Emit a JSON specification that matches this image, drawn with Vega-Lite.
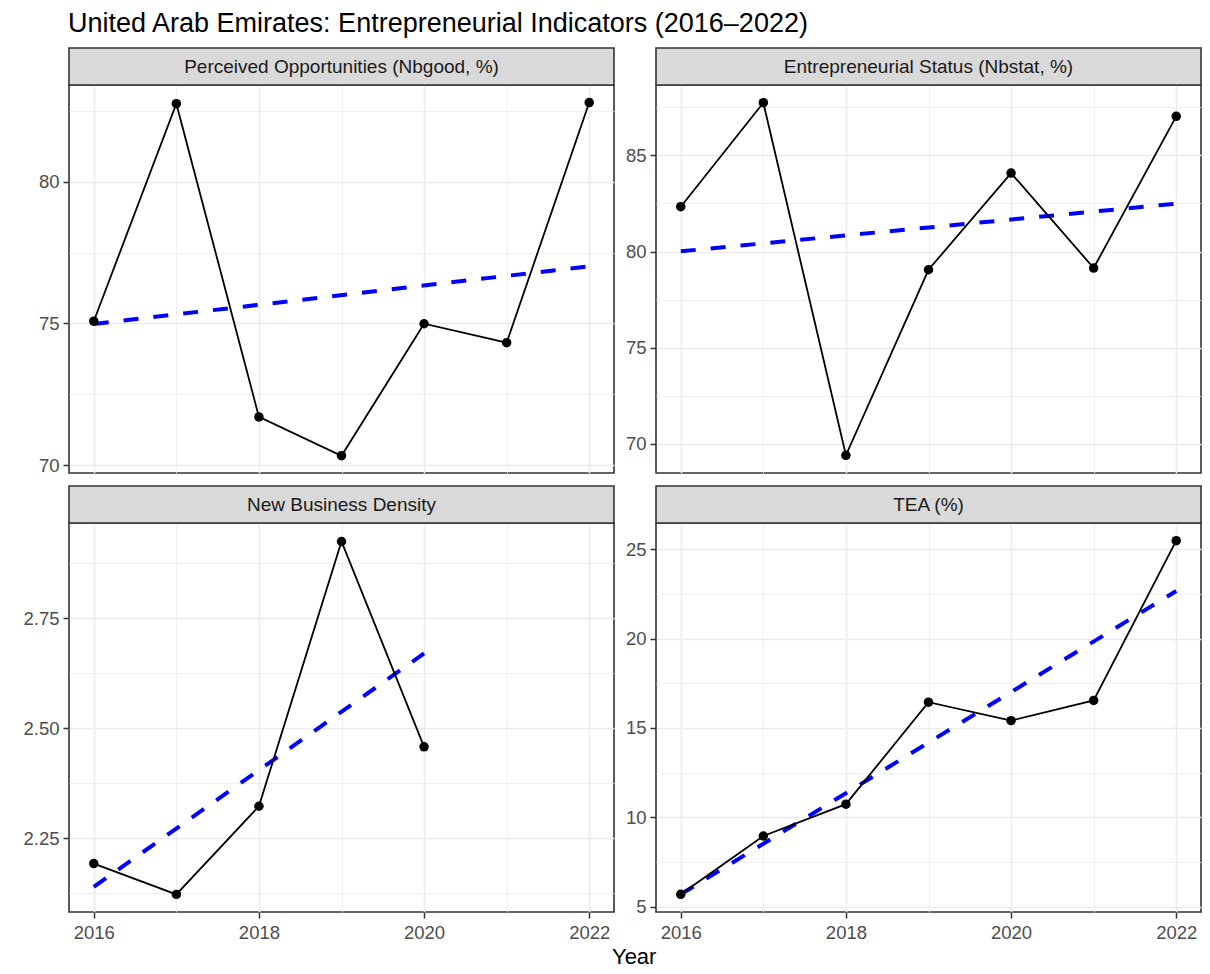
{
  "$schema": "https://vega.github.io/schema/vega-lite/v6.json",
  "background": "white",
  "padding": {"left": 18, "top": 10, "right": 5, "bottom": 5},
  "title": {"text": "United Arab Emirates: Entrepreneurial Indicators (2016–2022)", "anchor": "start", "frame": "group", "dx": -1, "fontSize": 27, "fontWeight": "normal", "color": "#000000", "font": "Liberation Sans", "offset": 8},
  "config": {
    "font": "Liberation Sans",
    "view": {"stroke": "#333333", "strokeWidth": 1.6},
    "axis": {"domain": false, "grid": true, "gridColor": "#ebebeb", "labelColor": "#4d4d4d", "labelFontSize": 18.5, "labelFont": "Liberation Sans", "tickColor": "#333333", "tickWidth": 1.5, "tickSize": 6, "labelFlush": false, "labelOverlap": false, "titleFont": "Liberation Sans", "titleFontWeight": "normal", "titleFontSize": 22, "titleColor": "#000000"}
  },
  "datasets": {
    "pts": [
      {"ind": "P1", "year": 2016, "value": 75.08}, {"ind": "P1", "year": 2017, "value": 82.76}, {"ind": "P1", "year": 2018, "value": 71.70}, {"ind": "P1", "year": 2019, "value": 70.33}, {"ind": "P1", "year": 2020, "value": 74.99}, {"ind": "P1", "year": 2021, "value": 74.32}, {"ind": "P1", "year": 2022, "value": 82.80},
      {"ind": "P2", "year": 2016, "value": 82.33}, {"ind": "P2", "year": 2017, "value": 87.74}, {"ind": "P2", "year": 2018, "value": 69.40}, {"ind": "P2", "year": 2019, "value": 79.05}, {"ind": "P2", "year": 2020, "value": 84.08}, {"ind": "P2", "year": 2021, "value": 79.14}, {"ind": "P2", "year": 2022, "value": 87.03},
      {"ind": "P3", "year": 2016, "value": 2.193}, {"ind": "P3", "year": 2017, "value": 2.123}, {"ind": "P3", "year": 2018, "value": 2.323}, {"ind": "P3", "year": 2019, "value": 2.924}, {"ind": "P3", "year": 2020, "value": 2.458},
      {"ind": "P4", "year": 2016, "value": 5.70}, {"ind": "P4", "year": 2017, "value": 8.96}, {"ind": "P4", "year": 2018, "value": 10.74}, {"ind": "P4", "year": 2019, "value": 16.44}, {"ind": "P4", "year": 2020, "value": 15.41}, {"ind": "P4", "year": 2021, "value": 16.54}, {"ind": "P4", "year": 2022, "value": 25.47}
    ],
    "trend": [
      {"ind": "P1", "year": 2016, "value": 74.98}, {"ind": "P1", "year": 2022, "value": 77.02},
      {"ind": "P2", "year": 2016, "value": 80.01}, {"ind": "P2", "year": 2022, "value": 82.49},
      {"ind": "P3", "year": 2016, "value": 2.14}, {"ind": "P3", "year": 2020, "value": 2.67},
      {"ind": "P4", "year": 2016, "value": 5.70}, {"ind": "P4", "year": 2022, "value": 22.66}
    ]
  },
  "columns": 2,
  "spacing": {"row": 8, "column": -7},
  "concat": [
    {
      "width": 545, "height": 388,
      "resolve": {"scale": {"y": "independent"}},
      "layer": [
        {
          "data": {"values": [{"label": "Perceived Opportunities (Nbgood, %)"}]},
          "encoding": {"y": {"field": "label", "type": "nominal", "scale": {"type": "band", "range": [-37, 0], "paddingInner": 0, "paddingOuter": 0}, "axis": null}},
          "layer": [
            {"mark": {"type": "rect", "fill": "#d9d9d9", "stroke": "#333333", "strokeWidth": 1.6}},
            {"mark": {"type": "text", "fontSize": 19, "color": "#1a1a1a", "baseline": "middle"}, "encoding": {"text": {"field": "label"}}}
          ]
        },
        {
          "encoding": {
            "x": {"field": "year", "type": "quantitative", "scale": {"domain": [2015.7, 2022.3], "nice": false, "zero": false},
                  "axis": {"grid": true, "values": [2016, 2017, 2018, 2019, 2020, 2021, 2022], "labels": false, "ticks": false, "title": null, "minExtent": 0, "maxExtent": 0,
                           "gridWidth": {"condition": {"test": "datum.value % 2 === 0", "value": 1.6}, "value": 0.8}}},
            "y": {"field": "value", "type": "quantitative", "scale": {"domain": [69.72, 83.42], "nice": false, "zero": false},
                  "axis": {"grid": true, "orient": "left", "values": [70, 72.5, 75, 77.5, 80, 82.5], "title": null, "minExtent": 50, "maxExtent": 50, "labelPadding": 4,
                           "labelExpr": "datum.value % 5 === 0 ? datum.label : ''",
                           "gridWidth": {"condition": {"test": "datum.value % 5 === 0", "value": 1.6}, "value": 0.8},
                           "tickOpacity": {"condition": {"test": "datum.value % 5 === 0", "value": 1}, "value": 0}}}
          },
          "layer": [
            {"data": {"name": "trend"}, "transform": [{"filter": "datum.ind === 'P1'"}], "mark": {"type": "line", "color": "#0000ff", "strokeWidth": 4, "strokeDash": [15, 15], "strokeCap": "butt"}},
            {"data": {"name": "pts"}, "transform": [{"filter": "datum.ind === 'P1'"}], "mark": {"type": "line", "color": "#000000", "strokeWidth": 1.8}},
            {"data": {"name": "pts"}, "transform": [{"filter": "datum.ind === 'P1'"}], "mark": {"type": "point", "filled": true, "color": "#000000", "size": 90, "opacity": 1}}
          ]
        }
      ]
    },
    {
      "width": 545, "height": 388,
      "resolve": {"scale": {"y": "independent"}},
      "layer": [
        {
          "data": {"values": [{"label": "Entrepreneurial Status (Nbstat, %)"}]},
          "encoding": {"y": {"field": "label", "type": "nominal", "scale": {"type": "band", "range": [-37, 0], "paddingInner": 0, "paddingOuter": 0}, "axis": null}},
          "layer": [
            {"mark": {"type": "rect", "fill": "#d9d9d9", "stroke": "#333333", "strokeWidth": 1.6}},
            {"mark": {"type": "text", "fontSize": 19, "color": "#1a1a1a", "baseline": "middle"}, "encoding": {"text": {"field": "label"}}}
          ]
        },
        {
          "encoding": {
            "x": {"field": "year", "type": "quantitative", "scale": {"domain": [2015.7, 2022.3], "nice": false, "zero": false},
                  "axis": {"grid": true, "values": [2016, 2017, 2018, 2019, 2020, 2021, 2022], "labels": false, "ticks": false, "title": null, "minExtent": 0, "maxExtent": 0,
                           "gridWidth": {"condition": {"test": "datum.value % 2 === 0", "value": 1.6}, "value": 0.8}}},
            "y": {"field": "value", "type": "quantitative", "scale": {"domain": [68.48, 88.66], "nice": false, "zero": false},
                  "axis": {"grid": true, "orient": "left", "values": [70, 72.5, 75, 77.5, 80, 82.5, 85, 87.5], "title": null, "minExtent": 46, "maxExtent": 46, "labelPadding": 4,
                           "labelExpr": "datum.value % 5 === 0 ? datum.label : ''",
                           "gridWidth": {"condition": {"test": "datum.value % 5 === 0", "value": 1.6}, "value": 0.8},
                           "tickOpacity": {"condition": {"test": "datum.value % 5 === 0", "value": 1}, "value": 0}}}
          },
          "layer": [
            {"data": {"name": "trend"}, "transform": [{"filter": "datum.ind === 'P2'"}], "mark": {"type": "line", "color": "#0000ff", "strokeWidth": 4, "strokeDash": [15, 15], "strokeCap": "butt"}},
            {"data": {"name": "pts"}, "transform": [{"filter": "datum.ind === 'P2'"}], "mark": {"type": "line", "color": "#000000", "strokeWidth": 1.8}},
            {"data": {"name": "pts"}, "transform": [{"filter": "datum.ind === 'P2'"}], "mark": {"type": "point", "filled": true, "color": "#000000", "size": 90, "opacity": 1}}
          ]
        }
      ]
    },
    {
      "width": 545, "height": 389,
      "resolve": {"scale": {"y": "independent"}},
      "layer": [
        {
          "data": {"values": [{"label": "New Business Density"}]},
          "encoding": {"y": {"field": "label", "type": "nominal", "scale": {"type": "band", "range": [-37, 0], "paddingInner": 0, "paddingOuter": 0}, "axis": null}},
          "layer": [
            {"mark": {"type": "rect", "fill": "#d9d9d9", "stroke": "#333333", "strokeWidth": 1.6}},
            {"mark": {"type": "text", "fontSize": 19, "color": "#1a1a1a", "baseline": "middle"}, "encoding": {"text": {"field": "label"}}}
          ]
        },
        {
          "encoding": {
            "x": {"field": "year", "type": "quantitative", "scale": {"domain": [2015.7, 2022.3], "nice": false, "zero": false},
                  "axis": {"grid": true, "values": [2016, 2017, 2018, 2019, 2020, 2021, 2022], "format": "d", "labelPadding": 5, "title": null,
                           "labelExpr": "datum.value % 2 === 0 ? datum.label : ''",
                           "gridWidth": {"condition": {"test": "datum.value % 2 === 0", "value": 1.6}, "value": 0.8},
                           "tickOpacity": {"condition": {"test": "datum.value % 2 === 0", "value": 1}, "value": 0}}},
            "y": {"field": "value", "type": "quantitative", "scale": {"domain": [2.083, 2.966], "nice": false, "zero": false},
                  "axis": {"grid": true, "orient": "left", "values": [2.125, 2.25, 2.375, 2.5, 2.625, 2.75, 2.875], "format": ".2f", "title": null, "minExtent": 50, "maxExtent": 50, "labelPadding": 4,
                           "labelExpr": "(datum.value * 4) % 1 === 0 ? datum.label : ''",
                           "gridWidth": {"condition": {"test": "(datum.value * 4) % 1 === 0", "value": 1.6}, "value": 0.8},
                           "tickOpacity": {"condition": {"test": "(datum.value * 4) % 1 === 0", "value": 1}, "value": 0}}}
          },
          "layer": [
            {"data": {"name": "trend"}, "transform": [{"filter": "datum.ind === 'P3'"}], "mark": {"type": "line", "color": "#0000ff", "strokeWidth": 4, "strokeDash": [15, 15], "strokeCap": "butt"}},
            {"data": {"name": "pts"}, "transform": [{"filter": "datum.ind === 'P3'"}], "mark": {"type": "line", "color": "#000000", "strokeWidth": 1.8}},
            {"data": {"name": "pts"}, "transform": [{"filter": "datum.ind === 'P3'"}], "mark": {"type": "point", "filled": true, "color": "#000000", "size": 90, "opacity": 1}}
          ]
        }
      ]
    },
    {
      "width": 545, "height": 389,
      "resolve": {"scale": {"y": "independent"}},
      "layer": [
        {
          "data": {"values": [{"label": "TEA (%)"}]},
          "encoding": {"y": {"field": "label", "type": "nominal", "scale": {"type": "band", "range": [-37, 0], "paddingInner": 0, "paddingOuter": 0}, "axis": null}},
          "layer": [
            {"mark": {"type": "rect", "fill": "#d9d9d9", "stroke": "#333333", "strokeWidth": 1.6}},
            {"mark": {"type": "text", "fontSize": 19, "color": "#1a1a1a", "baseline": "middle"}, "encoding": {"text": {"field": "label"}}}
          ]
        },
        {
          "encoding": {
            "x": {"field": "year", "type": "quantitative", "scale": {"domain": [2015.7, 2022.3], "nice": false, "zero": false},
                  "axis": {"grid": true, "values": [2016, 2017, 2018, 2019, 2020, 2021, 2022], "format": "d", "labelPadding": 5,
                           "title": "Year", "titleX": -22.3, "titleY": 51, "titleAlign": "center", "titleBaseline": "alphabetic",
                           "labelExpr": "datum.value % 2 === 0 ? datum.label : ''",
                           "gridWidth": {"condition": {"test": "datum.value % 2 === 0", "value": 1.6}, "value": 0.8},
                           "tickOpacity": {"condition": {"test": "datum.value % 2 === 0", "value": 1}, "value": 0}}},
            "y": {"field": "value", "type": "quantitative", "scale": {"domain": [4.71, 26.46], "nice": false, "zero": false},
                  "axis": {"grid": true, "orient": "left", "values": [5, 7.5, 10, 12.5, 15, 17.5, 20, 22.5, 25], "title": null, "minExtent": 46, "maxExtent": 46, "labelPadding": 4,
                           "labelExpr": "datum.value % 5 === 0 ? datum.label : ''",
                           "gridWidth": {"condition": {"test": "datum.value % 5 === 0", "value": 1.6}, "value": 0.8},
                           "tickOpacity": {"condition": {"test": "datum.value % 5 === 0", "value": 1}, "value": 0}}}
          },
          "layer": [
            {"data": {"name": "trend"}, "transform": [{"filter": "datum.ind === 'P4'"}], "mark": {"type": "line", "color": "#0000ff", "strokeWidth": 4, "strokeDash": [15, 15], "strokeCap": "butt"}},
            {"data": {"name": "pts"}, "transform": [{"filter": "datum.ind === 'P4'"}], "mark": {"type": "line", "color": "#000000", "strokeWidth": 1.8}},
            {"data": {"name": "pts"}, "transform": [{"filter": "datum.ind === 'P4'"}], "mark": {"type": "point", "filled": true, "color": "#000000", "size": 90, "opacity": 1}}
          ]
        }
      ]
    }
  ]
}
